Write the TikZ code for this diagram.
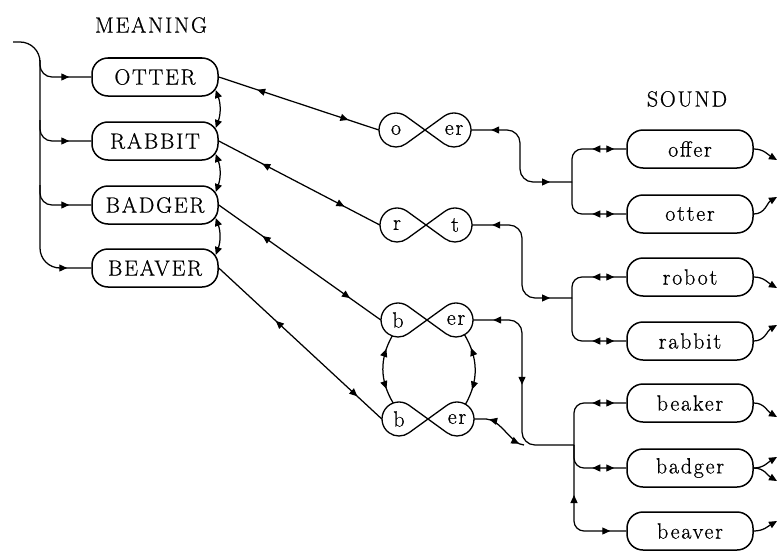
\documentclass[tikz,border=0pt]{standalone}
\usepackage{fontspec}
\setmainfont{Latin Modern Roman}[LetterSpace=8, FakeBold=0.7]
\usetikzlibrary{arrows.meta,decorations.markings,calc}

\tikzset{
  wordbox/.style={draw, line width=1.5pt, rounded corners=16pt,
    minimum width=126pt, minimum height=38pt, inner sep=0pt},
  lobe/.style={circle, minimum size=34pt, inner sep=0pt},
  heading/.style={inner sep=0pt},
  link/.style={line width=1.25pt},
  knot/.style={line width=1.3pt},
  both marks/.style 2 args={postaction={decorate},
    decoration={markings,
      mark=at position #1 with {\arrowreversed{>}},
      mark=at position #2 with {\arrow{>}}}},
  one mark/.style={postaction={decorate},
    decoration={markings, mark=at position #1 with {\arrow{>}}}},
  dbl heads/.style={both marks={-34pt}{-12pt}},
}

% figure-eight knot: #1 name prefix, #2 crossing point, #3 left letters, #4 right letters
\newcommand\eightknot[4]{%
  \begin{scope}[shift={#2}]
    \draw[knot] (0pt,0pt) -- (-19.03pt,13.77pt)
      arc[start angle=54.1, end angle=305.9, radius=17pt] -- cycle;
    \draw[knot] (0pt,0pt) -- (19.03pt,13.77pt)
      arc[start angle=125.9, end angle=-125.9, radius=17pt] -- cycle;
    \node[lobe] (#1L) at (-29pt,0pt) {#3};
    \node[lobe] (#1R) at (29pt,0pt) {#4};
  \end{scope}}

\begin{document}
\begin{tikzpicture}[x=1pt, y=-1pt,
  font=\fontsize{22}{26}\selectfont,
  >={Triangle[length=8pt,width=7pt]}]
\useasboundingbox (0,0) rectangle (778,551);

% headings
\node[heading] (meaning) at (151,25) {MEANING};
\node[heading] (sound) at (687,99) {SOUND};

% meanings
\node[wordbox] (OTTER)  at (155,77)  {OTTER};
\node[wordbox] (RABBIT) at (155,141) {RABBIT};
\node[wordbox] (BADGER) at (155,205) {BADGER};
\node[wordbox] (BEAVER) at (155,268) {BEAVER};

% sounds
\node[wordbox] (offer)  at (690,149) {offer};
\node[wordbox] (otter)  at (690,214) {otter};
\node[wordbox] (robot)  at (690,277) {robot};
\node[wordbox] (rabbit) at (690,341) {rabbit};
\node[wordbox] (beaker) at (690,403) {beaker};
\node[wordbox] (badger) at (690,468) {badger};
\node[wordbox] (beaver) at (690,531) {beaver};

% sound fragments
\eightknot{o}{(425,130)}{o}{er}
\eightknot{r}{(426,225)}{r}{t}
\eightknot{ba}{(427,320)}{b}{er}
\eightknot{bb}{(428,419)}{b}{er}

% entry bracket on the left
\coordinate (in) at (13,42);
\draw[link, rounded corners=20pt, one mark=-24pt] (in) -| (40,268) -- (BEAVER.west);
\draw[link, rounded corners=12pt, one mark=-22pt] (40,60) |- (OTTER.west);
\draw[link, rounded corners=12pt, one mark=-22pt] (40,120) |- (RABBIT.west);
\draw[link, rounded corners=12pt, one mark=-22pt] (40,185) |- (BADGER.west);

% links between neighbouring meanings
\draw[link,<->] ($(OTTER.east)+(-3,13)$) to[bend left=20] ($(RABBIT.east)+(-3,-13)$);
\draw[link,<->] ($(RABBIT.east)+(-3,13)$) to[bend left=20] ($(BADGER.east)+(-3,-13)$);
\draw[link,<->] ($(BADGER.east)+(-3,13)$) to[bend left=20] ($(BEAVER.east)+(-3,-13)$);

% meanings to fragments
\draw[link, both marks={0.24}{0.81}] (OTTER.east) -- (oL.west);
\draw[link, both marks={0.27}{0.78}] (RABBIT.east) -- (rL.west);
\draw[link, both marks={0.27}{0.81}] (BADGER.east) -- (baL.west);
\draw[link, both marks={0.35}{0.85}] (BEAVER.east) -- (bbL.west);

% links between the two b-er fragments
\draw[link, both marks={0.2}{0.78}] ($(baL.center)+(-110:17pt)$) to[bend right=30] ($(bbL.center)+(110:17pt)$);
\draw[link, both marks={0.2}{0.78}] ($(baR.center)+(-60:17pt)$) to[bend left=30] ($(bbR.center)+(60:17pt)$);

% junctions in front of the sound groups
\coordinate (j1) at (572,182);
\coordinate (j2) at (572,298);
\coordinate (j3) at (574,445);

\draw[link, rounded corners=13pt, both marks={20pt}{-22pt}] (oR.east) -| ($(j1)+(-52,0)$) -- (j1);
\draw[link, rounded corners=13pt, both marks={20pt}{-22pt}] (rR.east) -| ($(j2)+(-50,0)$) -- (j2);
\draw[link, rounded corners=13pt, both marks={20pt}{108pt}] (baR.east) -| ($(j3)+(-52,0)$) -- (j3);
\draw[link, both marks={15pt}{-5pt}] (bbR.east) -- ++(12,0)
  .. controls +(14,0) and +(-12,0) .. ($(j3)+(-50,0)$);

% sound brackets
\draw[link, rounded corners=10pt, dbl heads] (j1) |- (offer.west);
\draw[link, rounded corners=10pt, dbl heads] (j1) |- (otter.west);
\draw[link, rounded corners=10pt, dbl heads] (j2) |- (robot.west);
\draw[link, rounded corners=10pt, dbl heads] (j2) |- (rabbit.west);
\draw[link, rounded corners=10pt, dbl heads] (j3) |- (beaker.west);
\draw[link, rounded corners=10pt, dbl heads] (j3) |- (badger.west);
\draw[link, rounded corners=10pt, both marks={50pt}{-16pt}] (j3) |- (beaver.west);

% exits on the right
\coordinate (x1) at (777,160);
\coordinate (x2) at (777,197);
\coordinate (x3) at (777,288);
\coordinate (x4) at (777,325);
\coordinate (x5) at (777,417);
\coordinate (x6) at (777,457);
\coordinate (x7) at (777,481);
\coordinate (x8) at (777,521);
\draw[link,->] (offer.east)  to[out=0,in=150] (x1);
\draw[link,->] (otter.east)  to[out=0,in=210] (x2);
\draw[link,->] (robot.east)  to[out=0,in=150] (x3);
\draw[link,->] (rabbit.east) to[out=0,in=210] (x4);
\draw[link,->] (beaker.east) to[out=0,in=150] (x5);
\draw[link,->] (badger.east) to[out=0,in=210] (x6);
\draw[link,->] (badger.east) to[out=0,in=150] (x7);
\draw[link,->] (beaver.east) to[out=0,in=210] (x8);
\end{tikzpicture}
\end{document}
